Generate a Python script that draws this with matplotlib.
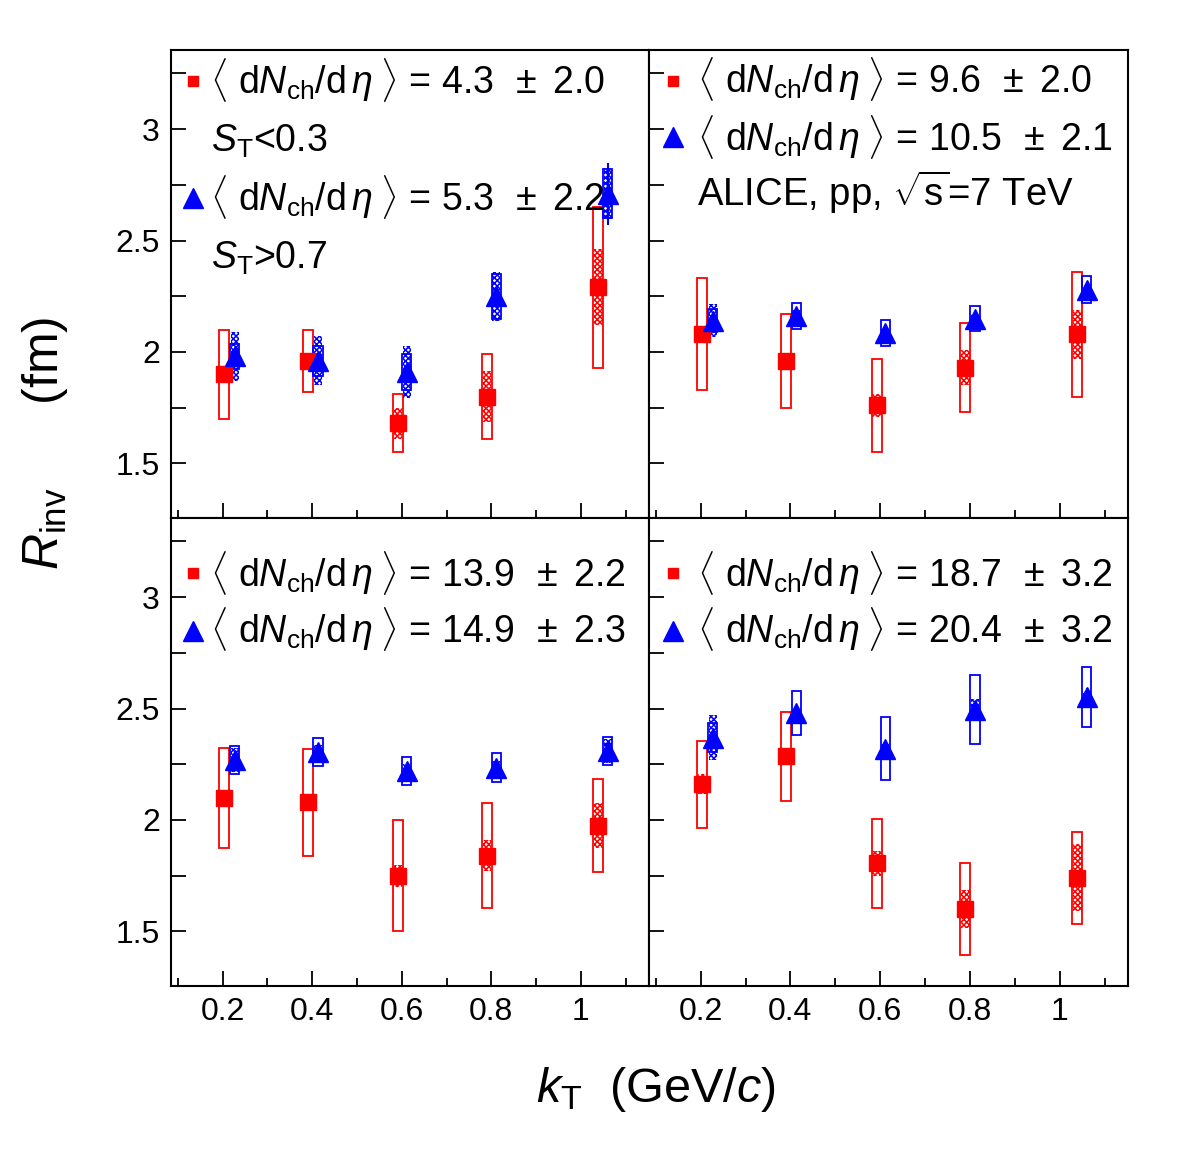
import matplotlib
matplotlib.use('Agg')
import matplotlib.pyplot as plt
from matplotlib.ticker import FixedLocator, NullFormatter, FixedFormatter

plt.rcParams['font.family'] = ['Liberation Sans', 'DejaVu Sans']
plt.rcParams['mathtext.fontset'] = 'custom'
plt.rcParams['mathtext.rm'] = 'Liberation Sans'
plt.rcParams['mathtext.it'] = 'Liberation Sans:italic'
plt.rcParams['mathtext.bf'] = 'Liberation Sans:bold'
plt.rcParams['hatch.linewidth'] = 1.1

# ---------------- data ----------------
kt_red = [0.204, 0.391, 0.592, 0.790, 1.039]
kt_blue = [0.227, 0.413, 0.611, 0.811, 1.060]

red_R = [[1.90, 1.96, 1.68, 1.80, 2.29],
         [2.08, 1.96, 1.76, 1.93, 2.08],
         [2.10, 2.08, 1.75, 1.84, 1.975],
         [2.16, 2.285, 1.805, 1.60, 1.74]]
red_sys_open = [[0.20, 0.14, 0.13, 0.19, 0.36],
                [0.25, 0.21, 0.21, 0.20, 0.28],
                [0.225, 0.24, 0.25, 0.235, 0.21],
                [0.195, 0.20, 0.20, 0.205, 0.205]]
red_sys_hatch = [[0.02, 0.02, 0.07, 0.115, 0.17],
                 [0.02, 0.02, 0.05, 0.08, 0.11],
                 [0.02, 0.02, 0.05, 0.07, 0.10],
                 [0.045, 0.02, 0.055, 0.085, 0.15]]
red_stat = [[0.02, 0.02, 0.02, 0.02, 0.03],
            [0.02, 0.02, 0.02, 0.02, 0.02],
            [0.02, 0.02, 0.02, 0.02, 0.02],
            [0.03, 0.04, 0.04, 0.03, 0.03]]

blue_R = [[1.98, 1.96, 1.91, 2.25, 2.71],
          [2.14, 2.16, 2.085, 2.15, 2.28],
          [2.27, 2.305, 2.22, 2.235, 2.31],
          [2.37, 2.48, 2.32, 2.495, 2.55]]
blue_sys_open = [[0.057, 0.068, 0.079, 0.10, 0.11],
                 [0.052, 0.058, 0.059, 0.058, 0.06],
                 [0.064, 0.065, 0.064, 0.064, 0.064],
                 [0.065, 0.10, 0.14, 0.155, 0.135]]
blue_sys_hatch = [[0.11, 0.11, 0.115, 0.11, 0.115],
                  [0.074, 0.03, 0.02, 0.02, 0.02],
                  [0.055, 0.03, 0.03, 0.03, 0.055],
                  [0.10, 0.02, 0.02, 0.05, 0.03]]
blue_stat = [[0.02, 0.02, 0.02, 0.02, 0.14],
             [0.02, 0.02, 0.02, 0.02, 0.02],
             [0.02, 0.02, 0.02, 0.02, 0.02],
             [0.03, 0.02, 0.03, 0.04, 0.04]]

mult_red = ['4.3', '9.6', '13.9', '18.7']
mult_red_err = ['2.0', '2.0', '2.2', '3.2']
mult_blue = ['5.3', '10.5', '14.9', '20.4']
mult_blue_err = ['2.2', '2.1', '2.3', '3.2']

x_ticks = [0.2, 0.4, 0.6, 0.8, 1.0]
x_ticklabels = ['0.2', '0.4', '0.6', '0.8', '1']
y_ticks = [1.5, 2.0, 2.5, 3.0]
y_ticklabels = ['1.5', '2', '2.5', '3']

RED = '#ff0000'
BLUE = '#0000ff'

fig = plt.figure(figsize=(11.82, 11.55), dpi=100)
W, H = 1182.0, 1155.0
panels = [(171, 50, 478, 468), (649, 50, 479, 468),
          (171, 518, 478, 468), (649, 518, 479, 468)]
axes = []
for (x0, y0, w, h) in panels:
    ax = fig.add_axes([x0 / W, 1 - (y0 + h) / H, w / W, h / H])
    axes.append(ax)

def dens(v, e):
    return ('$\\langle$ d$N_{\\mathrm{ch}}$/d$\\,\\eta\\;\\rangle$ = ' + v +
            ' $\\,\\pm$ ' + e)

for i, ax in enumerate(axes):
    ax.set_xlim(0.085, 1.152)
    ax.set_ylim(1.255, 3.355)
    # open systematic boxes
    ax.bar(kt_red, [2 * e for e in red_sys_open[i]],
           bottom=[r - e for r, e in zip(red_R[i], red_sys_open[i])],
           width=0.0223, fill=False, edgecolor=RED, linewidth=1.3, zorder=2)
    ax.bar(kt_red, [2 * e for e in red_sys_hatch[i]],
           bottom=[r - e for r, e in zip(red_R[i], red_sys_hatch[i])],
           width=0.019, facecolor='none', edgecolor=RED, hatch='xxxxxx',
           linewidth=0, zorder=2)
    ax.bar(kt_blue, [2 * e for e in blue_sys_hatch[i]],
           bottom=[r - e for r, e in zip(blue_R[i], blue_sys_hatch[i])],
           width=0.018, facecolor='none', edgecolor=BLUE, hatch='xxxxxx',
           linewidth=0, zorder=3)
    ax.bar(kt_blue, [2 * e for e in blue_sys_open[i]],
           bottom=[r - e for r, e in zip(blue_R[i], blue_sys_open[i])],
           width=0.0205, fill=False, edgecolor=BLUE, linewidth=1.3, zorder=3)
    ax.errorbar(kt_red, red_R[i], yerr=red_stat[i], fmt='s', color=RED,
                markersize=11.3, elinewidth=1.5, capsize=0, zorder=4)
    ax.errorbar(kt_blue, blue_R[i], yerr=blue_stat[i], fmt='^', color=BLUE,
                markersize=15, elinewidth=1.5, capsize=0, zorder=5)

    ax.xaxis.set_major_locator(FixedLocator(x_ticks))
    ax.xaxis.set_minor_locator(FixedLocator([0.1, 0.3, 0.5, 0.7, 0.9, 1.1]))
    ax.yaxis.set_major_locator(FixedLocator(y_ticks))
    ax.yaxis.set_minor_locator(FixedLocator([1.75, 2.25, 2.75, 3.25]))
    ax.tick_params(axis='both', which='both', direction='in', width=1.3,
                   top=False, right=False)
    ax.tick_params(axis='x', which='major', length=11, pad=8, labelsize=23)
    ax.tick_params(axis='x', which='minor', length=6)
    ax.tick_params(axis='y', which='both', length=11, pad=8, labelsize=23)
    for sp in ax.spines.values():
        sp.set_linewidth(1.5)
    if i % 2 == 0:
        ax.yaxis.set_major_formatter(FixedFormatter(y_ticklabels))
    else:
        ax.yaxis.set_major_formatter(NullFormatter())
    if i >= 2:
        ax.xaxis.set_major_formatter(FixedFormatter(x_ticklabels))
    else:
        ax.xaxis.set_major_formatter(NullFormatter())

fs = 27
# panel 1
ax = axes[0]
ax.plot([0.0454], [0.9348], 's', color=RED, markersize=7.2, transform=ax.transAxes, clip_on=False)
ax.text(0.0823, 0.9075, dens(mult_red[0], mult_red_err[0]), transform=ax.transAxes, fontsize=fs, va='baseline', ha='left')
ax.text(0.0837, 0.7827, '$S_{\\mathrm{T}}$<0.3', transform=ax.transAxes, fontsize=fs, va='baseline', ha='left')
ax.plot([0.046], [0.683], '^', color=BLUE, markersize=14.8, transform=ax.transAxes, clip_on=False)
ax.text(0.0823, 0.6581, dens(mult_blue[0], mult_blue_err[0]), transform=ax.transAxes, fontsize=fs, va='baseline', ha='left')
ax.text(0.0837, 0.5335, '$S_{\\mathrm{T}}$>0.7', transform=ax.transAxes, fontsize=fs, va='baseline', ha='left')
# panel 2
ax = axes[1]
ax.plot([0.0502], [0.9348], 's', color=RED, markersize=7.2, transform=ax.transAxes, clip_on=False)
ax.text(0.100, 0.909, dens(mult_red[1], mult_red_err[1]), transform=ax.transAxes, fontsize=fs, va='baseline', ha='left')
ax.plot([0.0502], [0.8135], '^', color=BLUE, markersize=14.8, transform=ax.transAxes, clip_on=False)
ax.text(0.100, 0.7863, dens(mult_blue[1], mult_blue_err[1]), transform=ax.transAxes, fontsize=fs, va='baseline', ha='left')
ax.text(0.100, 0.6667, 'ALICE, pp, $\\sqrt{\\mathrm{s}}$=7 TeV', transform=ax.transAxes, fontsize=27.5, va='baseline', ha='left')
# panel 3
ax = axes[2]
ax.plot([0.0454], [0.8825], 's', color=RED, markersize=7.2, transform=ax.transAxes, clip_on=False)
ax.text(0.0823, 0.854, dens(mult_red[2], mult_red_err[2]), transform=ax.transAxes, fontsize=fs, va='baseline', ha='left')
ax.plot([0.046], [0.7585], '^', color=BLUE, markersize=14.8, transform=ax.transAxes, clip_on=False)
ax.text(0.0823, 0.733, dens(mult_blue[2], mult_blue_err[2]), transform=ax.transAxes, fontsize=fs, va='baseline', ha='left')
# panel 4
ax = axes[3]
ax.plot([0.0502], [0.8825], 's', color=RED, markersize=7.2, transform=ax.transAxes, clip_on=False)
ax.text(0.100, 0.854, dens(mult_red[3], mult_red_err[3]), transform=ax.transAxes, fontsize=fs, va='baseline', ha='left')
ax.plot([0.0502], [0.7585], '^', color=BLUE, markersize=14.8, transform=ax.transAxes, clip_on=False)
ax.text(0.100, 0.733, dens(mult_blue[3], mult_blue_err[3]), transform=ax.transAxes, fontsize=fs, va='baseline', ha='left')

fig.text(0.038, 0.616, '$R_{\\mathrm{inv}}$      (fm)', rotation=90, fontsize=36,
         ha='center', va='center')
fig.text(0.555, 0.0563, '$k_{\\mathrm{T}}$  (GeV/$c$)', fontsize=35,
         ha='center', va='center')

fig.savefig('out.png', dpi=100)
